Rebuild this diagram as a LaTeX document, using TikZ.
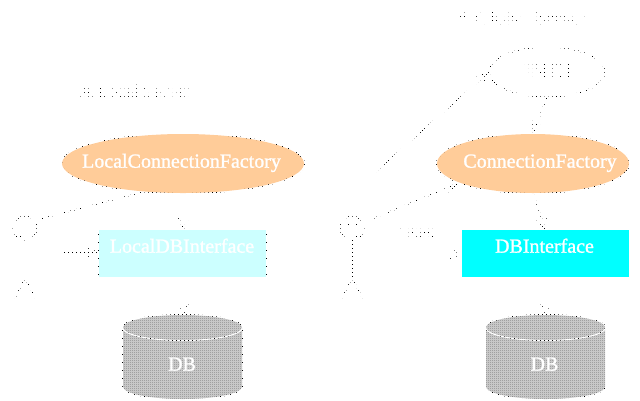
\documentclass[tikz,border=0pt]{standalone}
\usepackage{fontspec}
\setmainfont{Liberation Serif}
\newfontfamily\heavyserif[FakeBold=1.2]{Liberation Serif}
\usetikzlibrary{shapes.geometric,arrows.meta}
\newcommand{\sz}[1]{\fontsize{#1bp}{#1bp}\selectfont}
\tikzset{
  fillbox/.style={inner sep=0pt,outer sep=0pt,minimum width=167bp,minimum height=47bp},
  fillell/.style={ellipse,fill=orangefill,inner sep=0pt,outer sep=0pt,minimum height=59bp},
  whitelabel/.style={anchor=base,inner sep=0pt,text=white,font=\heavyserif\sz{20}},
  inklabel/.style={anchor=base,inner sep=0pt,text=black,font=\sz{20}},
  ink/.style={draw=black,line width=.9bp},
  conn/.style={ink,-{Straight Barb[length=11bp,width=10bp]}}
}
\definecolor{orangefill}{HTML}{FFCC99}
\definecolor{palecyan}{HTML}{CCFFFF}
\definecolor{cyanfill}{HTML}{00FFFF}
\definecolor{dblight}{HTML}{C8C8C8}
\definecolor{dbdark}{HTML}{A0A0A0}
\newcommand{\cylpath}{(-59.5,327.5) arc[start angle=180,end angle=360,x radius=59.5,y radius=12.5] -- (59.5,386.5) arc[start angle=0,end angle=180,x radius=59.5,y radius=12.5] -- cycle}
\newcommand{\cylbase}[4]{%
  \begin{scope}[shift={(#1,0)}]
    \fill[dblight] \cylpath;
    \begin{scope}
      \clip \cylpath;
      \clip \foreach \i in {#2,#3,...,#4} {(\i-#1+.1,310) rectangle ++(.8,95)};
      \clip \foreach \j in {314,316,...,400} {(-70,\j+.1) rectangle ++(140,.8)};
      \fill[dbdark] (-70,310) rectangle (70,405);
    \end{scope}
    \draw[white,line width=1bp] (-60,327.5) arc[start angle=180,end angle=0,x radius=60,y radius=13];
  \end{scope}}
\newcommand{\cylink}[1]{%
  \begin{scope}[shift={(#1,0)}]
    \draw[ink] (-60,386.5) -- (-60,327.5) arc[start angle=180,end angle=540,x radius=60,y radius=13];
    \draw[ink] (60,327.5) -- (60,386.5) arc[start angle=0,end angle=180,x radius=60,y radius=13];
  \end{scope}}
\newcommand{\actorink}[1]{%
  \begin{scope}[shift={(#1)}]
    \draw[ink] (0,228) circle[radius=12];
    \draw[ink] (-4,222) -- (-4,226);
    \draw[ink] (4,222) -- (4,226);
    \draw[ink] (-4.5,234) -- (-4.5,237) (4.5,234) -- (4.5,237);
    \draw[ink] (0,240) -- (0,278);
    \draw[ink] (-18,254.5) -- (18,254.5);
    \draw[ink] (-10,298) -- (0,278) -- (10.5,298);
  \end{scope}}
\newcommand{\linework}{%
  \draw[ink] (lcf.center) ellipse[x radius=121.5,y radius=30];
  \draw[ink] (cf.center) ellipse[x radius=96.5,y radius=30];
  \draw[ink] (cloud.center) ellipse[x radius=58,y radius=25];
  \draw[ink] ([shift={(-.5,-.5)}]lbi.north west) rectangle ([shift={(.5,.5)}]lbi.south east);
  \draw[ink] ([shift={(-.5,-.5)}]dbi.north west) rectangle ([shift={(.5,.5)}]dbi.south east);
  \cylink{182.5}
  \cylink{545.5}
  \actorink{25,0}
  \actorink{352,0}
  \draw[conn] ([xshift=.5bp]lcf.south) -- ([xshift=1bp]lbi.north);
  \draw[conn] ([xshift=1bp]lbi.south) -- (dbAtop);
  \draw[conn] (cf.south) -- (dbi.north);
  \draw[conn] (dbi.south) -- (dbBtop);
  \draw[conn] (cloud.south) -- (cf.north);
  \draw[conn] (actorAup) -- ([shift={(-38,-1.5)}]lcf.south);
  \draw[conn] (actorAright) -- (actorAright -| lbi.west);
  \draw[conn] (actorBup) -- (cloud.west);
  \draw[conn] (actorBmid) -- ([shift={(-7,-1)}]cf.south west);
  \draw[conn] (actorBright) -- (actorBright -| dbi.west);
}
\begin{document}
\begin{tikzpicture}[x=1bp,y=-1bp]
  \useasboundingbox (0,0) rectangle (640,400);
  \fill[white] (0,0) rectangle (640,400);
  % coloured shapes
  \node[fillell,minimum width=242bp] (lcf) at (183,163.5) {};
  \node[fillell,minimum width=192bp] (cf) at (533,163.5) {};
  \node[fillbox,fill=palecyan] (lbi) at (182.5,253.5) {};
  \node[fillbox,fill=cyanfill] (dbi) at (545.5,253.5) {};
  \cylbase{182.5}{124}{126}{242}
  \cylbase{545.5}{486}{488}{604}
  \coordinate (dbAtop) at (183.5,315);
  \coordinate (dbBtop) at (545.5,315);
  \coordinate (actorAup) at (40,219);
  \coordinate (actorAright) at (62,252.5);
  \coordinate (actorBup) at (372,175);
  \coordinate (actorBmid) at (372,219);
  \coordinate (actorBright) at (370,254);
  % labels on the coloured shapes
  \node[whitelabel] (lcfText) at (181.5,167.7) {LocalConnectionFactory};
  \node[whitelabel] (cfText) at (540,167.7) {ConnectionFactory};
  \node[whitelabel] (lbiText) at (182,252.7) {LocalDBInterface};
  \node[whitelabel] (dbiText) at (544.5,252.7) {DBInterface};
  \node[whitelabel] (dbAText) at (182,370.7) {DB};
  \node[whitelabel] (dbBText) at (544.5,370.7) {DB};
  % black art only shows through the two dot lattices
  \begin{scope}
    \clip \foreach \i in {0,4,...,636} {(\i+.1,0) rectangle ++(.8,400)};
    \clip \foreach \j in {0,4,...,396} {(0,\j+.1) rectangle ++(640,.8)};
    \node[ellipse,inner sep=0pt,outer sep=0pt,minimum width=116bp,minimum height=50bp,font=\sz{24}] (cloud) at (547,72) {JNDI};
    \node[inklabel,font=\sz{18}] (labelA) at (135,97) {A Local Server};
    \node[inklabel] (labelB) at (521.5,24.5) {A Global Server};
    \node[inklabel] (labelUses) at (417,238) {uses};
    \linework
  \end{scope}
  \begin{scope}
    \clip \foreach \i in {2,6,...,638} {(\i+.1,0) rectangle ++(.8,400)};
    \clip \foreach \j in {2,10,...,394} {(0,\j+.1) rectangle ++(640,.8)};
    \linework
  \end{scope}
\end{tikzpicture}
\end{document}
